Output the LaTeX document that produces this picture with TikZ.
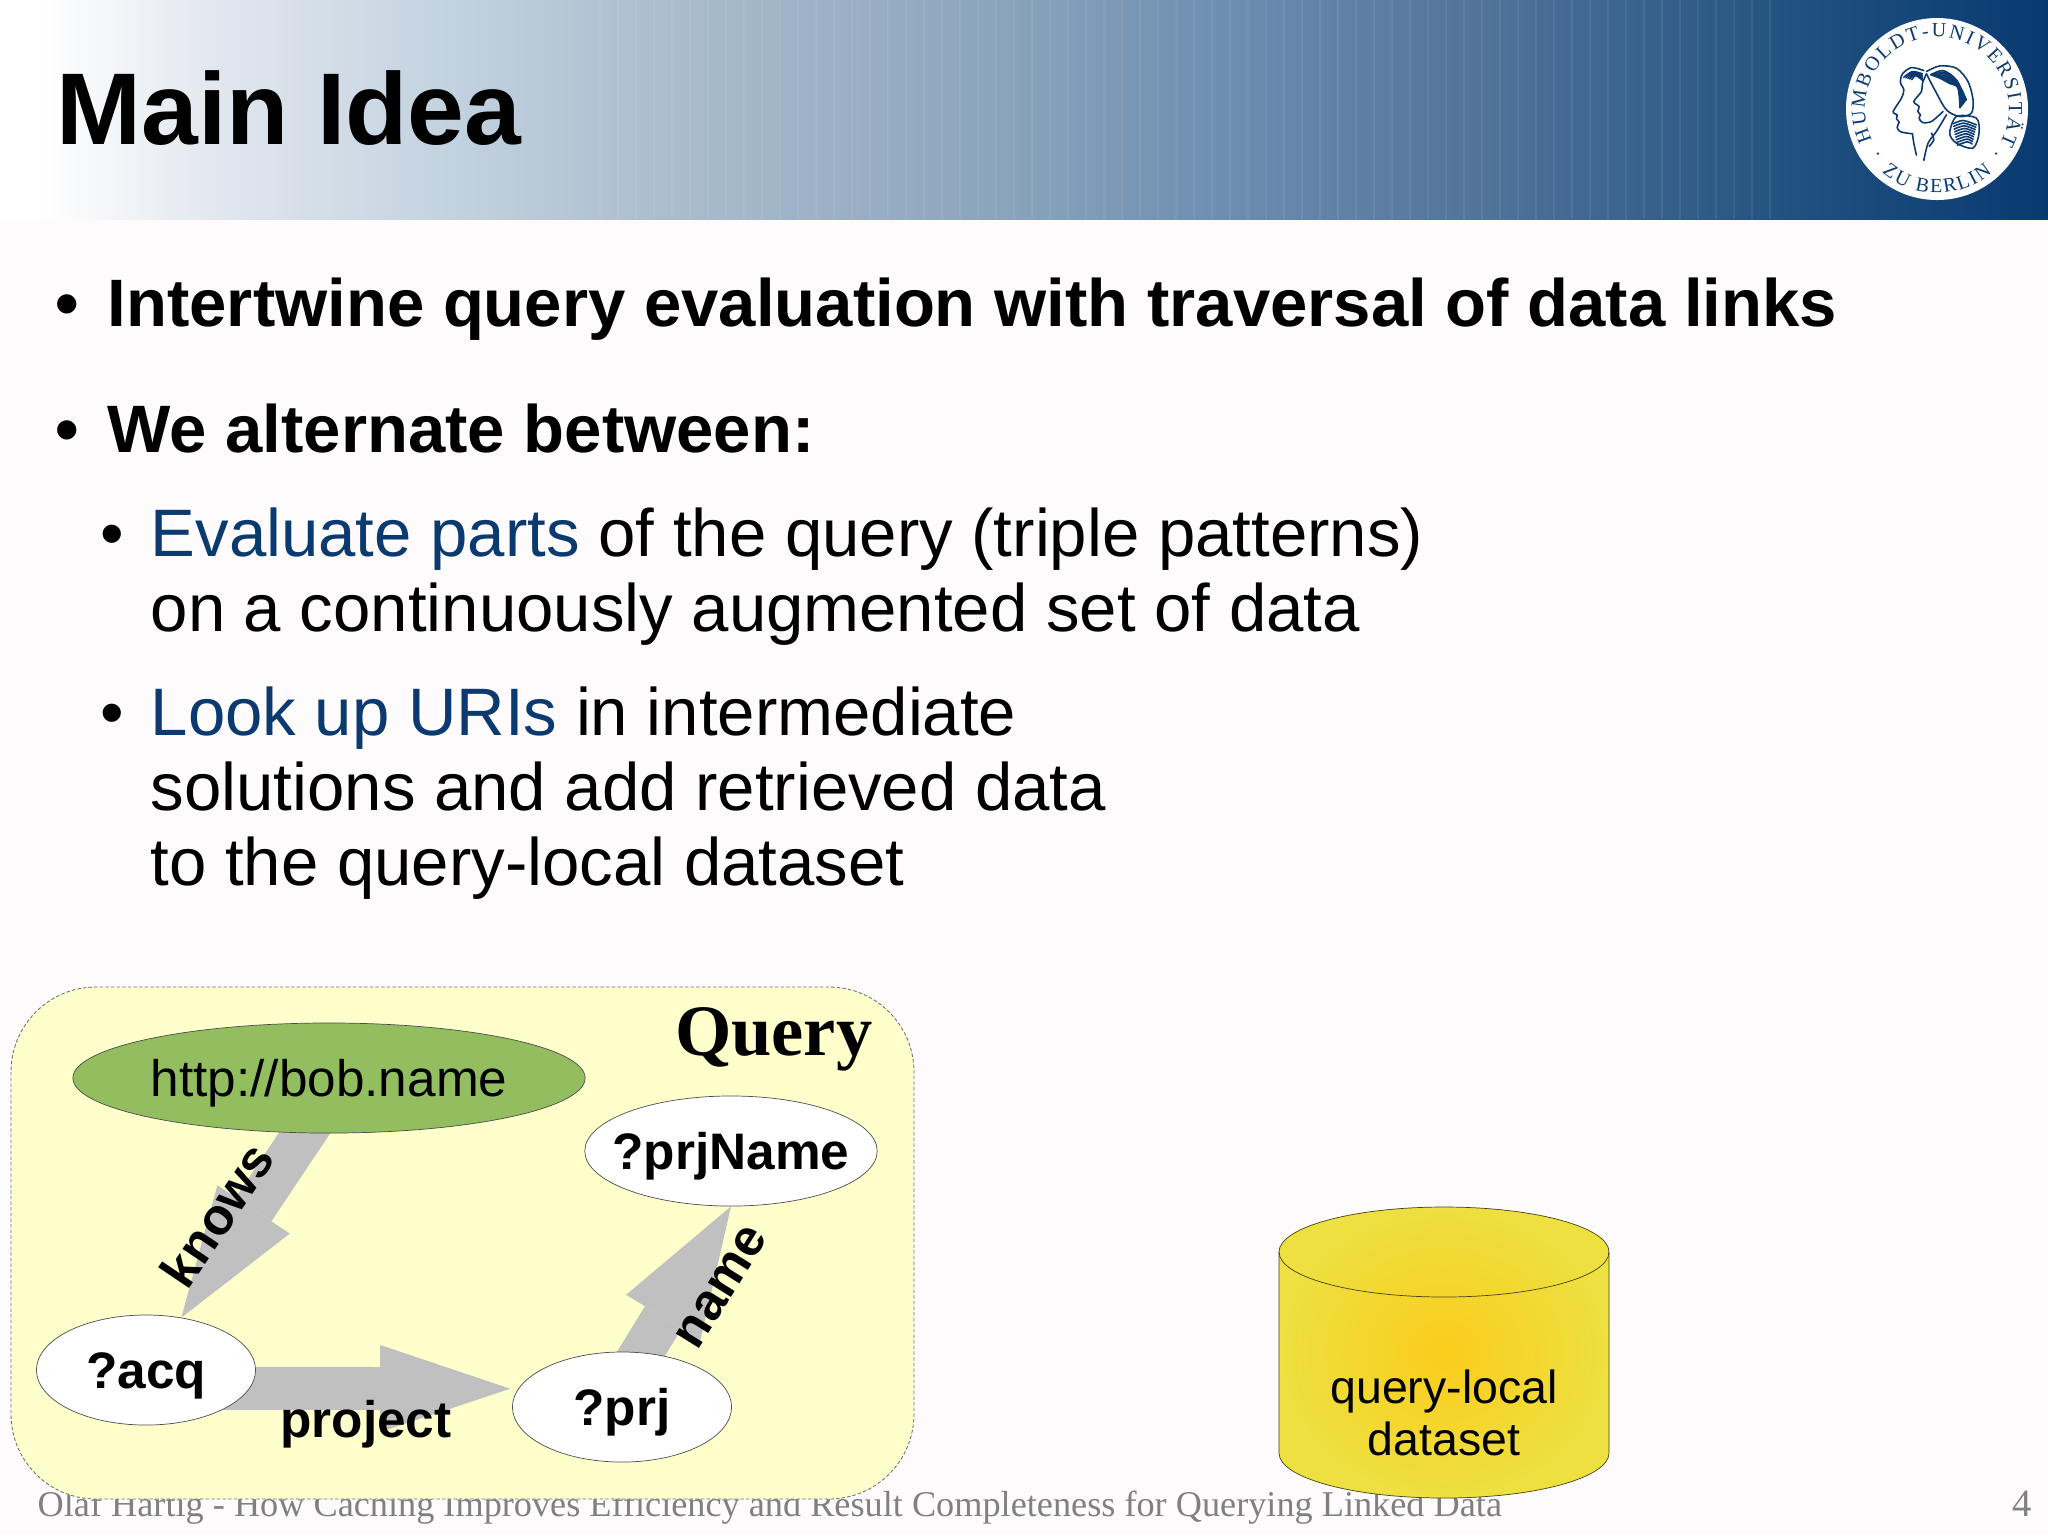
\documentclass[tikz,border=0pt]{standalone}
\usepackage{fontspec}
\setmainfont{Liberation Sans}
\newfontfamily\serifface{Liberation Serif}
\usetikzlibrary{arrows.meta,shapes.geometric,backgrounds,decorations.text}

\definecolor{pagebg}{HTML}{FDFBFC}
\definecolor{hublue}{HTML}{0A3A70}
\definecolor{querybg}{HTML}{FFFFCC}
\definecolor{querygreen}{HTML}{93BE60}
\definecolor{linkgray}{HTML}{C0C0C0}
\definecolor{footgray}{HTML}{808080}
\definecolor{dbinner}{HTML}{FBCC1C}
\definecolor{dbouter}{HTML}{EDE040}
\definecolor{hdA}{HTML}{E0E6EE}
\definecolor{hdB}{HTML}{C0D0DE}
\definecolor{hdC}{HTML}{AEBFD0}
\definecolor{hdD}{HTML}{8AA4BC}
\definecolor{hdE}{HTML}{6F8FB2}
\definecolor{hdF}{HTML}{4F7299}
\definecolor{hdG}{HTML}{20507F}
\definecolor{hdH}{HTML}{083A70}

\pgfdeclarehorizontalshading{headershade}{100bp}{
  color(0bp)=(white); color(26bp)=(white);
  color(30.5bp)=(hdA); color(36.5bp)=(hdB); color(40.5bp)=(hdC); color(49.5bp)=(hdD);
  color(54.5bp)=(hdE); color(61.5bp)=(hdF); color(69bp)=(hdG); color(75bp)=(hdH); color(100bp)=(hdH)}

\tikzset{
  bodyline/.style={anchor=base west, inner sep=0pt, font=\fontsize{19.09}{23}\selectfont},
  boldline/.style={bodyline, font=\fontsize{19.07}{23}\selectfont\bfseries},
  varnode/.style={ellipse, draw=black!70, very thin, fill=white, inner sep=0pt,
    text height=0.40cm, text depth=0.04cm,
    minimum height=1.10cm, font=\fontsize{14.6}{17}\selectfont\bfseries},
  linkarrow/.style={line width=0.43cm, linkgray,
    -{Triangle[length=1.30cm, width=0.87cm, line width=0pt]}},
  linklabel/.style={inner sep=0pt, font=\fontsize{14.6}{17}\selectfont\bfseries},
  logoline/.style={hublue, line width=0.45pt, line cap=round, line join=round}
}

\begin{document}
\begin{tikzpicture}[x=0.01cm, y=-0.01cm]

 \useasboundingbox (0,0) rectangle (2048,1535);

 \begin{scope}[on background layer]
   \fill[pagebg] (0,0) rectangle (2048,1535);

   %header
   \shade[shading=headershade] (0,0) rectangle (2048,219);
   \foreach \i in {600,618,...,1780} {
     \draw[white, opacity=0.07, line width=0.4pt] (\i,0) -- (\i,219);
   }

   %footer
   \node[anchor=base west, inner sep=0pt, text=footgray, font=\serifface\fontsize{10.31}{13}\selectfont] (footer) at (37,1516)
     {Olaf Hartig - How Caching Improves Efficiency and Result Completeness for Querying Linked Data};
   \node[anchor=base east, inner sep=0pt, text=footgray, font=\serifface\fontsize{11}{13}\selectfont] (pagenum) at (2033,1516) {4};

   %query box
   \draw[black!55, fill=querybg, line width=0.25pt, dash pattern=on 1pt off 0.6pt, rounded corners=0.85cm] (11,987) rectangle (914,1499);
 \end{scope}

 %title
 \node[anchor=base west, inner sep=0pt, font=\fontsize{29}{34}\selectfont\bfseries] (title) at (56,144) {Main Idea};

 %logo
 \fill[white] (1937,109) circle (91);
 \begin{scope}[shift={(1937,109)}, x=0.01cm, y=0.01cm]
   \path[decorate, decoration={text along path, text align=fit to path,
     text={|\serifface\fontsize{5.7}{6}\selectfont\color{hublue}|HUMBOLDT-UNIVERSITÄT}}]
     (206:72) arc (206:-29:72);
   \path[decorate, decoration={text along path, text align=fit to path,
     text={|\serifface\fontsize{5.7}{6}\selectfont\color{hublue}|ZU BERLIN}}]
     (229:84) arc (229:311:84);
   \foreach \a in {217,323} {
     \fill[hublue] (\a:74) circle (1.3);
   }
 \end{scope}
 \begin{scope}[shift={(1780,0)}, x=0.00333cm, y=-0.00333cm, logoline]
   %back head
   \draw plot[smooth] coordinates {(432,212) (395,203) (368,222) (362,248) (372,270) (365,295) (340,335) (352,345) (350,357) (358,367) (352,382) (362,396) (398,402)};
   \draw plot[smooth] coordinates {(398,402) (402,430) (410,466)};
   \foreach \i in {0,6,...,24} {
     \draw plot[smooth] coordinates {(372+\i,232+\i*0.3) (398+\i*0.4,215+\i*0.5) (428,222+\i*0.8)};
   }
   %front head
   \draw plot[smooth] coordinates {(440,222) (428,250) (425,275) (402,305) (418,320) (414,335) (422,345) (418,355) (428,368) (455,365) (490,335)};
   \draw plot[smooth] coordinates {(440,215) (480,198) (530,205) (565,245) (580,300) (575,340) (540,350) (500,330) (465,270) (440,222)};
   \foreach \i in {0,6,...,48} {
     \draw plot[smooth] coordinates {(452+\i*0.6,225+\i*0.2) (490+\i*0.4,212+\i*0.8) (530+\i*0.1,240+\i*0.5) (560-\i*0.4,300+\i*0.5)};
   }
   \draw plot[smooth] coordinates {(500,345) (470,395) (445,430) (432,482)};
   \draw plot[smooth] coordinates {(455,400) (462,420) (448,440)};
   %ponytail
   \draw plot[smooth cycle] coordinates {(530,350) (590,355) (598,400) (580,445) (530,430) (510,400)};
   \foreach \i in {0,8,...,64} {
     \draw plot[smooth] coordinates {(520+\i*0.2,372+\i) (550+\i*0.2,362+\i) (590-\i*0.2,375+\i*0.9)};
   }
 \end{scope}

 %bullet points
 \foreach \i/\ty/\tx/\txt in {1/326/107/{Intertwine query evaluation with traversal of data links},
                              2/452/107/{We alternate between:}} {
   \node[boldline] (L\i) at (\tx,\ty) {\txt};
   \node[boldline] (B\i) at (55,\ty) {•};
 }
 \foreach \i/\ty/\txt in {3/556/{\textcolor{hublue}{Evaluate parts} of the query (triple patterns)},
                          4/631/{on a continuously augmented set of data},
                          5/735/{\textcolor{hublue}{Look up URIs} in intermediate},
                          6/810/{solutions and add retrieved data},
                          7/885/{to the query-local dataset}} {
   \node[bodyline] (L\i) at (150,\ty) {\txt};
 }
 \node[bodyline] (B3) at (100,556) {•};
 \node[bodyline] (B5) at (100,735) {•};

 %query nodes
 \node[anchor=base east, inner sep=0pt, font=\serifface\fontsize{20.6}{24}\selectfont\bfseries] (querytitle) at (873,1055) {Query};
 \node[varnode, fill=querygreen, minimum width=5.12cm, font=\fontsize{14.6}{17}\selectfont] (http) at (329,1078) {http://bob.name};
 \node[varnode, minimum width=2.92cm, inner xsep=-0.15cm] (prjName) at (731,1151) {?prjName};
 \node[varnode, minimum width=2.19cm] (acq) at (146,1370) {?acq};
 \node[varnode, minimum width=2.19cm] (prj) at (622,1407) {?prj};

 %arrows
 \begin{scope}[on background layer]
   \draw[linkarrow, shorten <=-0.3cm] (http.246) -- (acq.56);
   \draw[linkarrow, shorten <=-0.3cm, shorten >=0.08cm] (acq.-10) -- (prj.170);
   \draw[linkarrow, shorten <=-0.3cm] (prj.70) -- (prjName.south);
 \end{scope}

 %arrow labels
 \node[linklabel, rotate=56] (knows) at (217,1215) {knows};
 \node[linklabel] (project) at (366,1424) {project};
 \node[linklabel, rotate=58] (name) at (722,1287) {name};

 %dataset cylinder
 \shade[inner color=dbinner, outer color=dbouter, draw=black!70!dbouter, very thin]
   (1279,1252) arc (180:360:165 and 45) -- (1609,1453) arc (0:180:165 and 45) -- cycle;
 \draw[black!70!dbouter, very thin] (1279,1252) arc (180:0:165 and 45);
 \node[inner sep=0pt, align=center, font=\fontsize{13.2}{14.9}\selectfont] (dataset) at (1444,1413) {query-local\\dataset};

\end{tikzpicture}
\end{document}
